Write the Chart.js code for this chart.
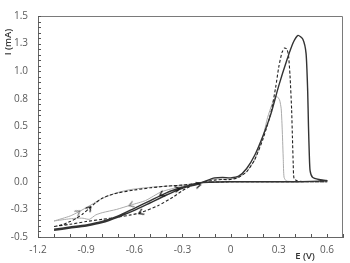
<!DOCTYPE html>
<html><head><meta charset="utf-8">
<script src="https://cdn.jsdelivr.net/npm/chart.js@4/dist/chart.umd.min.js"></script>
<style>html,body{margin:0;padding:0;background:#fff}#wrap{width:350px;height:263px}</style>
</head><body><div id="wrap"><canvas id="c" width="350" height="263"></canvas></div>
<script>
// Potential E (V) and current I (mA) for three CV curves (forward then reverse scan)
const solidE = [-1.1,-1.0,-0.9,-0.8,-0.7,-0.6,-0.5,-0.4,-0.3,-0.2,-0.15,-0.1,-0.05,0,0.05,0.1,0.15,0.2,0.25,0.3,0.35,0.39,0.42,0.45,0.47,0.48,0.485,0.49,0.495,0.51,0.55,0.6,0.4,0.2,0,-0.2,-0.3,-0.4,-0.5,-0.6,-0.7,-0.8,-0.9,-1.0,-1.1];
const solidI = [-0.44,-0.42,-0.40,-0.37,-0.32,-0.26,-0.19,-0.12,-0.06,-0.02,0.01,0.035,0.04,0.035,0.05,0.12,0.24,0.41,0.61,0.87,1.1,1.26,1.325,1.29,1.16,0.82,0.5,0.25,0.1,0.04,0.02,0.01,0.0,0.0,0.0,-0.01,-0.05,-0.10,-0.17,-0.24,-0.31,-0.36,-0.39,-0.41,-0.43];
const dashedE = [-1.1,-1.05,-1.0,-0.96,-0.92,-0.88,-0.84,-0.8,-0.75,-0.7,-0.6,-0.5,-0.4,-0.3,-0.2,-0.15,-0.1,-0.05,0,0.05,0.1,0.15,0.2,0.25,0.28,0.3,0.32,0.335,0.35,0.36,0.37,0.38,0.385,0.39,0.395,0.42,0.6,0.4,0.2,0,-0.2,-0.25,-0.3,-0.36,-0.45,-0.56,-0.62,-0.7,-0.8,-0.9,-1.0,-1.1];
const dashedI = [-0.405,-0.39,-0.36,-0.33,-0.29,-0.24,-0.19,-0.15,-0.12,-0.1,-0.075,-0.055,-0.04,-0.03,-0.015,0.0,0.015,0.02,0.02,0.04,0.09,0.2,0.38,0.62,0.85,1.04,1.17,1.21,1.2,1.15,0.96,0.65,0.4,0.16,0.03,0.005,0.0,0,0,0,-0.01,-0.04,-0.08,-0.14,-0.215,-0.28,-0.30,-0.32,-0.34,-0.36,-0.385,-0.405];
const grayE = [-1.1,-1.0,-0.95,-0.87,-0.8,-0.71,-0.62,-0.5,-0.4,-0.3,-0.2,-0.1,0,0.05,0.1,0.15,0.2,0.23,0.26,0.28,0.29,0.305,0.315,0.322,0.328,0.333,0.35,0.6,0.4,0.2,0,-0.2,-0.3,-0.43,-0.53,-0.62,-0.71,-0.8,-0.84,-0.88,-0.92,-0.96,-1.0,-1.1];
const grayI = [-0.355,-0.31,-0.275,-0.21,-0.15,-0.1,-0.07,-0.05,-0.04,-0.03,-0.01,0.025,0.025,0.04,0.09,0.2,0.4,0.58,0.71,0.765,0.77,0.74,0.66,0.45,0.2,0.04,0.005,0.0,0,0,0,-0.01,-0.04,-0.09,-0.17,-0.21,-0.25,-0.28,-0.30,-0.34,-0.33,-0.33,-0.335,-0.355];
// scan-direction arrowheads
const arrowDarkE = [-0.88,-0.56,-0.43,-0.33,-0.2];
const arrowDarkI = [-0.24,-0.28,-0.115,-0.065,-0.03];
const arrowDarkRot = [-50,155,150,-12,-10];
const arrowGrayE = [-0.95,-0.62];
const arrowGrayI = [-0.275,-0.21];
const arrowGrayRot = [-35,160];
// axis ticks
const xMin = -1.2, xMax = 0.7, xStep = 0.1, xLabelEvery = 0.3;
const yMin = -0.5, yMax = 1.5, yStep = 0.05, yLabelEvery = 0.25;

function pts(xs, ys){ return xs.map((x,i)=>({x:x, y:ys[i]})); }
function chevron(color){
  const c = document.createElement('canvas'); c.width = 8; c.height = 8;
  const g = c.getContext('2d'); g.strokeStyle = color; g.lineWidth = 1.2;
  g.beginPath(); g.moveTo(1.5,1); g.lineTo(6,4); g.lineTo(1.5,7); g.stroke();
  return c;
}
const chevDark = chevron('#111'), chevGray = chevron('#777');
function isMult(v, m){ const r = v/m; return Math.abs(r - Math.round(r)) < 1e-6; }

const frame = {
  id:'frame',
  afterDraw(chart){
    const ctx = chart.ctx, a = chart.chartArea;
    ctx.save();
    ctx.strokeStyle = '#7a7a7a'; ctx.lineWidth = 1;
    ctx.beginPath();
    ctx.moveTo(Math.round(a.left)+0.5, Math.round(a.top)+0.5);
    ctx.lineTo(Math.round(a.right)-0.5, Math.round(a.top)+0.5);
    ctx.lineTo(Math.round(a.right)-0.5, Math.round(a.bottom));
    ctx.stroke();
    // inside tick marks
    ctx.strokeStyle = '#555';
    const xs = chart.scales.x, ys = chart.scales.y;
    ctx.beginPath();
    xs.ticks.forEach(t=>{ const p = Math.round(xs.getPixelForValue(t.value))+0.5; ctx.moveTo(p, a.bottom); ctx.lineTo(p, a.bottom-3); });
    ys.ticks.forEach(t=>{ const p = Math.round(ys.getPixelForValue(t.value))+0.5; ctx.moveTo(a.left, p); ctx.lineTo(a.left+3, p); });
    ctx.stroke();
    // axis titles
    ctx.fillStyle = '#333';
    ctx.font = '600 9.5px "Open Sans", sans-serif';
    ctx.textAlign = 'center'; ctx.textBaseline = 'middle';
    ctx.fillText('E (V)', 305, 256);
    ctx.translate(8, 42); ctx.rotate(-Math.PI/2);
    ctx.fillText('I (mA)', 0, 0);
    ctx.restore();
  }
};

new Chart(document.getElementById('c'), {
  type:'scatter',
  data:{ datasets:[
    {data:pts(arrowDarkE, arrowDarkI), pointStyle:chevDark, pointRotation:arrowDarkRot, pointRadius:4, showLine:false},
    {data:pts(arrowGrayE, arrowGrayI), pointStyle:chevGray, pointRotation:arrowGrayRot, pointRadius:4, showLine:false},
    {data:pts(solidE, solidI), showLine:true, borderColor:'#333', borderWidth:1.4, pointRadius:0, tension:0.2, fill:false},
    {data:pts(dashedE, dashedI), showLine:true, borderColor:'#222', borderWidth:1.1, borderDash:[3,2], pointRadius:0, tension:0.2, fill:false},
    {data:pts(grayE, grayI), showLine:true, borderColor:'#aaa', borderWidth:1, pointRadius:0, tension:0.2, fill:false}
  ]},
  options:{
    responsive:false, animation:false, maintainAspectRatio:false,
    layout:{padding:{top:5, right:3, left:0, bottom:0}},
    plugins:{legend:{display:false}, tooltip:{enabled:false}},
    scales:{
      x:{ type:'linear', min:xMin, max:xMax,
        grid:{display:false, drawTicks:false}, border:{display:true, color:'#666', width:1},
        afterFit(s){ s.height = 26; },
        ticks:{ stepSize:xStep, autoSkip:false, maxRotation:0, padding:7, color:'#595959',
          font:{family:'"Open Sans", sans-serif', size:10},
          callback(v){ const r = Math.round(v*100)/100; if(!isMult(r, xLabelEvery)) return ''; return r===0 ? '0' : r.toFixed(1); } }
      },
      y:{ type:'linear', min:yMin, max:yMax,
        grid:{display:false, drawTicks:false}, border:{display:true, color:'#666', width:1},
        afterFit(s){ s.width = 38; },
        ticks:{ stepSize:yStep, autoSkip:false, padding:10, color:'#595959',
          font:{family:'"Open Sans", sans-serif', size:10},
          callback(v){ const r = Math.round(v*100)/100; if(!isMult(r, yLabelEvery)) return ''; return r.toFixed(1); } }
      }
    }
  },
  plugins:[frame]
});
</script></body></html>
